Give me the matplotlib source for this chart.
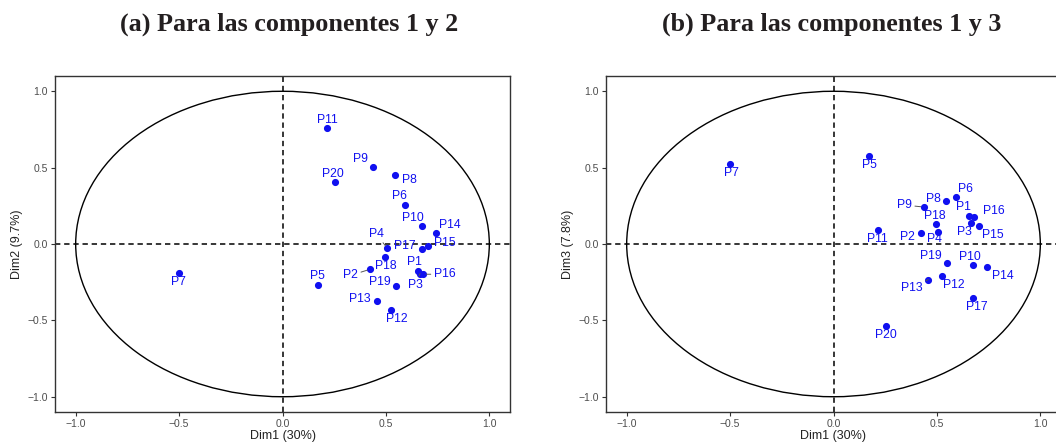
import matplotlib
matplotlib.use("Agg")
import matplotlib.pyplot as plt
from matplotlib.patches import Circle

# PCA variable coordinates
labels = ["P1", "P2", "P3", "P4", "P5", "P6", "P7", "P8", "P9", "P10",
          "P11", "P12", "P13", "P14", "P15", "P16", "P17", "P18", "P19", "P20"]
dim1 = [0.657, 0.422, 0.665, 0.506, 0.172, 0.592, -0.502, 0.545, 0.436, 0.676,
        0.215, 0.525, 0.458, 0.741, 0.703, 0.681, 0.673, 0.496, 0.550, 0.255]
dim2 = [-0.176, -0.166, -0.194, -0.026, -0.268, 0.257, -0.190, 0.453, 0.503, 0.120,
        0.758, -0.429, -0.373, 0.072, -0.013, -0.198, -0.031, -0.083, -0.272, 0.407]
dim3 = [0.183, 0.074, 0.135, 0.078, 0.577, 0.307, 0.521, 0.283, 0.242, -0.137,
        0.089, -0.209, -0.233, -0.153, 0.120, 0.179, -0.353, 0.129, -0.126, -0.538]

titles = ["(a) Para las componentes 1 y 2", "(b) Para las componentes 1 y 3"]
xlabel = "Dim1 (30%)"
ylabels = ["Dim2 (9.7%)", "Dim3 (7.8%)"]

# label offsets in pixels (dx, dy, with connector?) mimicking ggrepel placement
offs_a = {
    "P1": (-4, 9, False), "P2": (-19, -6, True), "P3": (-5, -11, True),
    "P4": (-11, 14, True), "P5": (-1, 9, False), "P6": (-5, 9, False),
    "P7": (0, -9, False), "P8": (14, -5, False), "P9": (-12, 8, False),
    "P10": (-9, 8, False), "P11": (0, 8, False), "P12": (6, -9, False),
    "P13": (-17, 2, False), "P14": (14, 8, False), "P15": (17, 3, False),
    "P16": (21, 0, True), "P17": (-17, 3, False), "P18": (1, -9, False),
    "P19": (-16, 4, False), "P20": (-2, 8, False),
}
offs_b = {
    "P1": (-6, 9, False), "P2": (-13, -4, False), "P3": (-7, -9, False),
    "P4": (-4, -7, False), "P5": (0, -9, False), "P6": (10, 8, False),
    "P7": (2, -9, False), "P8": (-13, 2, False), "P9": (-19, 2, True),
    "P10": (-3, 8, False), "P11": (-1, -9, False), "P12": (12, -9, False),
    "P13": (-16, -8, True), "P14": (16, -9, False), "P15": (14, -9, False),
    "P16": (19, 6, False), "P17": (4, -9, False), "P18": (-1, 8, False),
    "P19": (-16, 7, False), "P20": (0, -9, False),
}

blue = "#1010f0"
fig = plt.figure(figsize=(10.56, 4.43), dpi=100)
W, H = 1056, 443
positions = [(55, 76, 510, 412), (606, 76, 1061, 412)]

for k, (ys, offs) in enumerate([(dim2, offs_a), (dim3, offs_b)]):
    l, t, r, b = positions[k]
    ax = fig.add_axes([l / W, 1 - b / H, (r - l) / W, (b - t) / H])
    ax.set_xlim(-1.1, 1.1)
    ax.set_ylim(-1.1, 1.1)
    ax.add_patch(Circle((0, 0), 1, fill=False, color="black", lw=1.0))
    ax.axhline(0, color="black", lw=1.1, ls=(0, (3.5, 2.5)))
    ax.axvline(0, color="black", lw=1.1, ls=(0, (3.5, 2.5)))
    ax.scatter(dim1, ys, s=17, color=blue, zorder=3)
    for name, x, y in zip(labels, dim1, ys):
        dx, dy, seg = offs[name]
        ax.annotate(name, (x, y), xytext=(dx, dy), textcoords="offset pixels",
                    ha="center", va="center", color=blue, fontsize=8.8,
                    family="Liberation Sans",
                    arrowprops=dict(arrowstyle="-", color="#555555", lw=0.7,
                                    shrinkA=0, shrinkB=2) if seg else None)
    ticks = [-1.0, -0.5, 0.0, 0.5, 1.0]
    ax.set_xticks(ticks)
    ax.set_yticks(ticks)
    ax.set_xticklabels([f"{v:.1f}".replace("-", "\u2212") for v in ticks])
    ax.set_yticklabels([f"{v:.1f}".replace("-", "\u2212") for v in ticks])
    ax.tick_params(length=3, width=0.8, color="#333333", labelsize=7.5,
                   labelcolor="#4d4d4d", pad=2)
    for lab in ax.get_xticklabels() + ax.get_yticklabels():
        lab.set_family("Liberation Sans")
    for sp in ax.spines.values():
        sp.set_color("#333333")
        sp.set_linewidth(1.0)
    ax.set_xlabel(xlabel, fontsize=9, family="Liberation Sans", color="#222222", labelpad=1)
    ax.set_ylabel(ylabels[k], fontsize=9, family="Liberation Sans", color="#222222", labelpad=3)

fig.text(289 / W, 1 - 24 / H, titles[0], ha="center", va="center",
         fontsize=18.8, fontweight="bold", family="Liberation Serif", color="#231f20")
fig.text(832 / W, 1 - 24 / H, titles[1], ha="center", va="center",
         fontsize=18.8, fontweight="bold", family="Liberation Serif", color="#231f20")

fig.savefig("out.png", dpi=100)
